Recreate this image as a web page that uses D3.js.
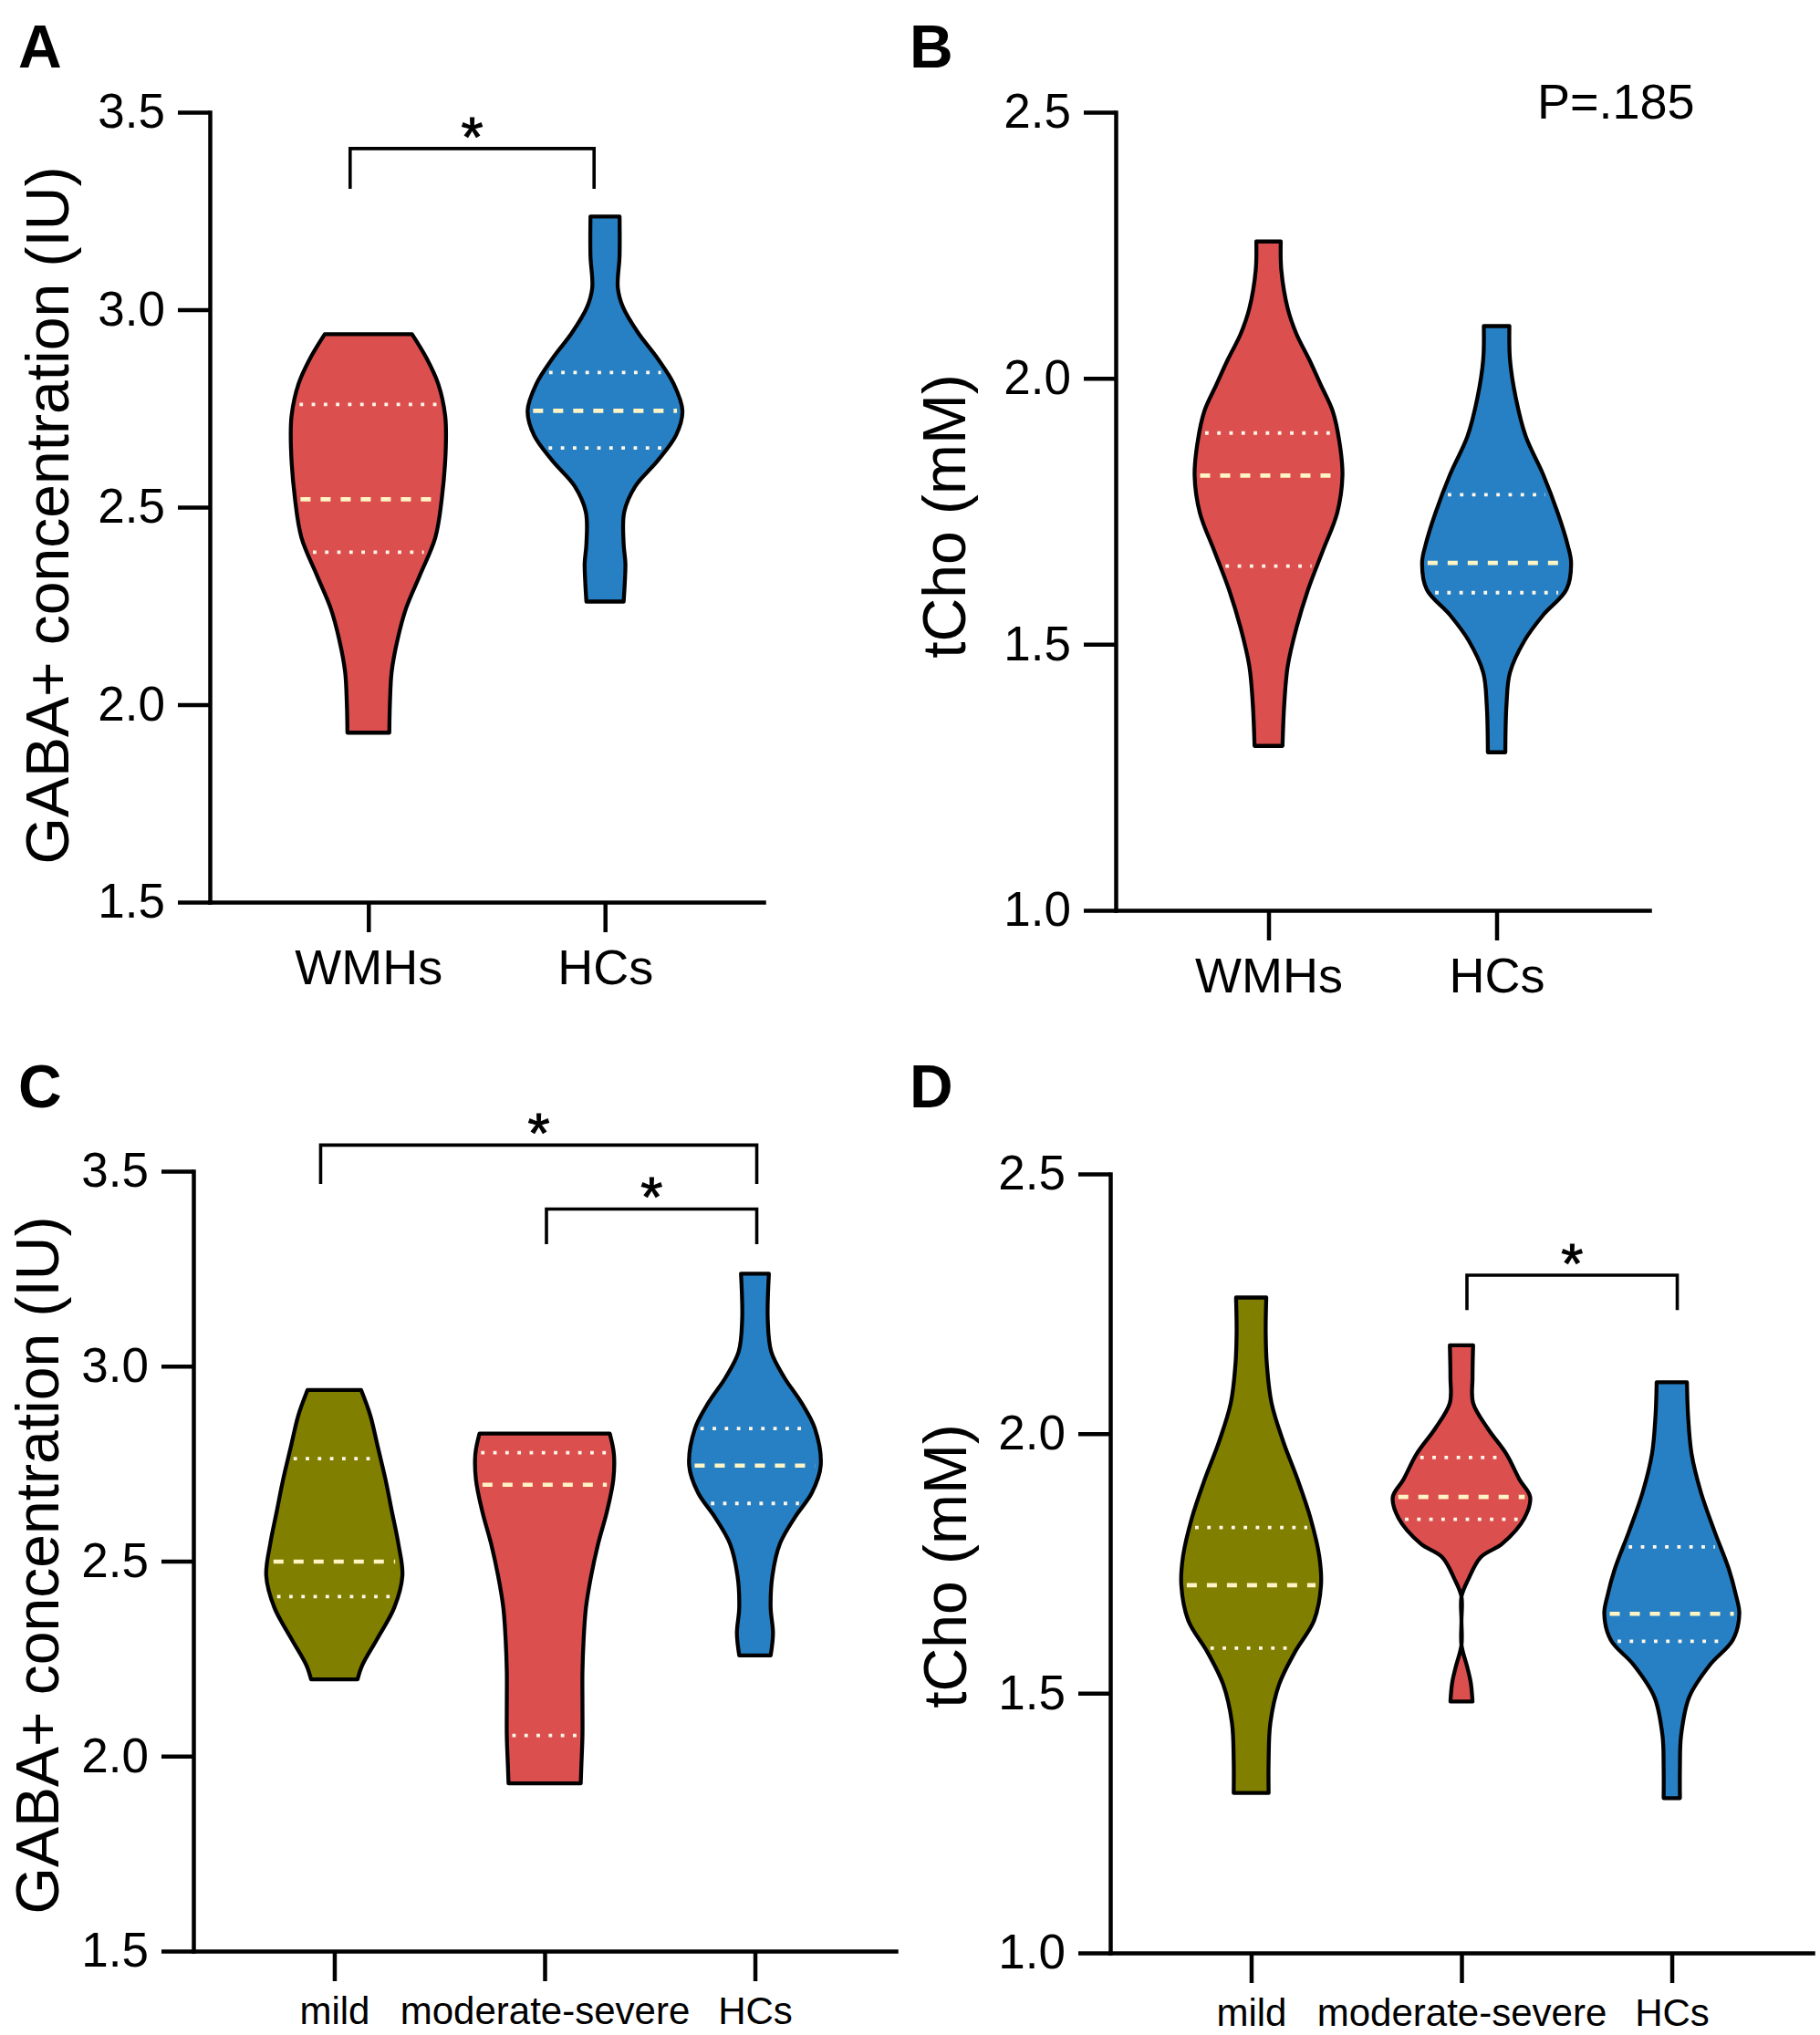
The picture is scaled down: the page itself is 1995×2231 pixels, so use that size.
<!DOCTYPE html>
<html>
<head>
<meta charset="utf-8">
<script src="https://cdn.jsdelivr.net/npm/d3@7"></script>
<style>
  html, body { margin: 0; padding: 0; background: #fff; }
  svg { display: block; font-family: "Liberation Sans", Arial, Helvetica, sans-serif; }
</style>
</head>
<body>
<svg id="chart" width="1995" height="2231"></svg>
<script>
// ---------------- DATA ----------------
const catsAB = ["WMHs", "HCs"];
const catsCD = ["mild", "moderate-severe", "HCs"];
const ticksGABA = [1.5, 2.0, 2.5, 3.0, 3.5];
const ticksCho = [1.0, 1.5, 2.0, 2.5];

// Panel A: GABA+ (violin outline: values top->bottom, relative half-width density)
const gabaWMH_v = [2.938, 2.877, 2.812, 2.731, 2.650, 2.520, 2.423, 2.326, 2.245, 2.164, 2.083, 2.002, 1.929];
const gabaWMH_w = [75, 100, 120, 132, 133, 126, 115, 88, 65, 50, 40, 37, 36];
const gabaWMH_q = [2.386, 2.520, 2.760]; // Q1, median, Q3
const gabaHC_v = [3.236, 3.136, 3.055, 3.006, 2.941, 2.877, 2.812, 2.744, 2.682, 2.617, 2.553, 2.488, 2.407, 2.358, 2.310, 2.261];
const gabaHC_w = [25, 25, 22, 31, 57, 90, 118, 133, 122, 90, 52, 33, 32, 35, 34, 32];
const gabaHC_q = [2.650, 2.744, 2.841];

// Panel B: tCho
const choWMH_v = [2.257, 2.203, 2.131, 2.083, 2.035, 1.987, 1.939, 1.879, 1.817, 1.747, 1.675, 1.603, 1.531, 1.459, 1.387, 1.309];
const choWMH_w = [21, 22, 33, 48, 70, 90, 110, 122, 127, 118, 93, 68, 48, 33, 27, 24];
const choWMH_q = [1.647, 1.817, 1.897];
const choHC_v = [2.098, 2.035, 1.963, 1.891, 1.819, 1.747, 1.687, 1.653, 1.603, 1.555, 1.507, 1.447, 1.387, 1.297];
const choHC_w = [22, 23, 33, 50, 80, 105, 122, 128, 120, 80, 48, 23, 17, 15];
const choHC_q = [1.597, 1.653, 1.781];

// Panel C: GABA+ by severity
const gabaMild_v = [2.939, 2.873, 2.791, 2.709, 2.627, 2.545, 2.463, 2.381, 2.299, 2.233, 2.197];
const gabaMild_w = [46, 62, 75, 88, 99, 110, 117, 103, 73, 48, 40];
const gabaMild_q = [2.409, 2.499, 2.763];
const gabaMod_v = [2.827, 2.775, 2.709, 2.627, 2.545, 2.463, 2.381, 2.299, 2.217, 2.135, 2.053, 1.971, 1.930];
const gabaMod_w = [112, 119, 118, 107, 92, 80, 71, 67, 65, 65, 65, 63, 62];
const gabaMod_q = [2.053, 2.696, 2.778];
const gabaHC2_v = [3.237, 3.119, 3.037, 2.972, 2.906, 2.840, 2.745, 2.676, 2.611, 2.545, 2.463, 2.381, 2.315, 2.258];
const gabaHC2_w = [24, 22, 28, 50, 80, 103, 113, 98, 68, 43, 30, 27, 31, 27];
const gabaHC2_q = [2.648, 2.745, 2.840];

// Panel D: tCho by severity
const choMild_v = [2.262, 2.195, 2.133, 2.059, 1.985, 1.911, 1.837, 1.764, 1.708, 1.640, 1.579, 1.517, 1.443, 1.370, 1.308];
const choMild_w = [26, 25, 27, 35, 55, 80, 102, 117, 120, 108, 75, 48, 33, 30, 30];
const choMild_q = [1.587, 1.708, 1.819];
const choMod_v = [2.170, 2.108, 2.059, 2.010, 1.961, 1.911, 1.878, 1.837, 1.788, 1.762, 1.720, 1.686, 1.640, 1.593, 1.550, 1.520, 1.484];
const choMod_w = [20, 19, 20, 45, 77, 100, 118, 108, 70, 33, 12, 0, 0, 0, 10, 16, 19];
const choMod_q = [1.835, 1.878, 1.954];
const choHC2_v = [2.099, 2.034, 1.961, 1.887, 1.813, 1.739, 1.690, 1.653, 1.603, 1.554, 1.493, 1.419, 1.357, 1.298];
const choHC2_w = [26, 28, 34, 50, 73, 98, 110, 116, 105, 65, 30, 16, 14, 14];
const choHC2_q = [1.600, 1.653, 1.782];

// significance brackets: [left category, right category, bar level, leg end level, label]
const sigA = [["WMHs", "HCs", 3.408, 3.306, "*"]];
const sigC = [["mild", "HCs", 3.567, 3.467, "*"], ["moderate-severe", "HCs", 3.403, 3.313, "*"]];
const sigD = [["moderate-severe", "HCs", 2.305, 2.238, "*"]];

// ---------------- STYLE ----------------
const RED = "#DC4F4F", BLUE = "#2780C4", OLIVE = "#807F00";
const FONT = '"Liberation Sans", Arial, Helvetica, sans-serif';

const panels = [
  { letter: "A", lx: 20, ly: 74, title: "GABA+ concentration (IU)", tx: 75, ty: 565,
    xl: 230, xr: 837, yb: 989, yt: 123, domain: [1.5, 3.5], ticks: ticksGABA, cats: catsAB, xFont: 54, xPad: 19,
    groups: [
      { cat: "WMHs", v: gabaWMH_v, w: gabaWMH_w, q: gabaWMH_q, color: RED },
      { cat: "HCs", v: gabaHC_v, w: gabaHC_w, q: gabaHC_q, color: BLUE } ],
    sig: sigA, sigNudge: [[-20, -12]] },
  { letter: "B", lx: 997, ly: 74, title: "tCho (mM)", tx: 1058, ty: 566,
    xl: 1223, xr: 1808, yb: 998, yt: 123, domain: [1.0, 2.5], ticks: ticksCho, cats: catsAB, xFont: 54, xPad: 19,
    groups: [
      { cat: "WMHs", v: choWMH_v, w: choWMH_w, q: choWMH_q, color: RED },
      { cat: "HCs", v: choHC_v, w: choHC_w, q: choHC_q, color: BLUE } ],
    sig: [], sigNudge: [], note: "P=.185" },
  { letter: "C", lx: 20, ly: 1214, title: "GABA+ concentration (IU)", tx: 64, ty: 1716,
    xl: 212, xr: 982, yb: 2139, yt: 1284, domain: [1.5, 3.5], ticks: ticksGABA, cats: catsCD, xFont: 42, xPad: 17,
    groups: [
      { cat: "mild", v: gabaMild_v, w: gabaMild_w, q: gabaMild_q, color: OLIVE },
      { cat: "moderate-severe", v: gabaMod_v, w: gabaMod_w, q: gabaMod_q, color: RED },
      { cat: "HCs", v: gabaHC2_v, w: gabaHC2_w, q: gabaHC2_q, color: BLUE } ],
    sig: sigC, sigNudge: [[-15, 2], [2, 2]] },
  { letter: "D", lx: 997, ly: 1214, title: "tCho (mM)", tx: 1059, ty: 1717,
    xl: 1217, xr: 1987, yb: 2141, yt: 1287, domain: [1.0, 2.5], ticks: ticksCho, cats: catsCD, xFont: 42, xPad: 17,
    groups: [
      { cat: "mild", v: choMild_v, w: choMild_w, q: choMild_q, color: OLIVE },
      { cat: "moderate-severe", v: choMod_v, w: choMod_w, q: choMod_q, color: RED },
      { cat: "HCs", v: choHC2_v, w: choHC2_w, q: choHC2_q, color: BLUE } ],
    sig: sigD, sigNudge: [[6, 6]] }
];

const widthScale = d3.scaleLinear().domain([0, 100]).range([0, 63.8]);
const svg = d3.select("#chart");

panels.forEach(p => {
  const g = svg.append("g");
  const y = d3.scaleLinear().domain(p.domain).range([p.yb, p.yt]);
  const x = d3.scalePoint().domain(p.cats).range([p.xl, p.xr]).padding(0.67);

  // violins
  p.groups.forEach(gr => {
    const cx = x(gr.cat);
    const pts = gr.v.map((v, i) => ({ v: v, w: gr.w[i] }));
    const area = d3.area()
      .curve(d3.curveCatmullRom.alpha(0.5))
      .y(d => y(d.v))
      .x0(d => cx - widthScale(d.w))
      .x1(d => cx + widthScale(d.w));
    g.append("path").datum(pts)
      .attr("d", area)
      .attr("fill", gr.color)
      .attr("stroke", "#000")
      .attr("stroke-width", 4.3)
      .attr("stroke-linejoin", "round");

    const halfAt = d3.scaleLinear().domain(gr.v).range(gr.w).clamp(true);
    gr.q.forEach((qv, i) => {
      const hw = widthScale(halfAt(qv)) - 6;
      const isMed = i === 1;
      g.append("line")
        .attr("x1", cx - hw).attr("x2", cx + hw)
        .attr("y1", y(qv)).attr("y2", y(qv))
        .attr("stroke", isMed ? "#FFF4C4" : "#FFF8E8")
        .attr("stroke-width", isMed ? 4.6 : 3.8)
        .attr("stroke-dasharray", isMed ? "11 11" : "3.8 9.5");
    });
  });

  // axes
  const yAxis = g.append("g")
    .attr("transform", `translate(${p.xl},0)`)
    .call(d3.axisLeft(y).tickValues(p.ticks).tickFormat(d3.format(".1f"))
      .tickSize(35).tickSizeOuter(0).tickPadding(14));
  yAxis.selectAll("text").attr("font-size", 53).attr("font-family", FONT).attr("fill", "#000");

  const xAxis = g.append("g")
    .attr("transform", `translate(0,${p.yb})`)
    .call(d3.axisBottom(x).tickSize(33).tickSizeOuter(0).tickPadding(p.xPad));
  xAxis.selectAll("text").attr("font-size", p.xFont).attr("font-family", FONT).attr("fill", "#000");

  [yAxis, xAxis].forEach(a => {
    a.select(".domain").attr("stroke", "#000").attr("stroke-width", 4.5).attr("stroke-linecap", "square");
    a.selectAll(".tick line").attr("stroke", "#000").attr("stroke-width", 4.5);
  });

  // significance brackets
  p.sig.forEach((s, i) => {
    const nud = p.sigNudge[i] || [0, 0];
    const xa = x(s[0]) + nud[0], xb = x(s[1]) + nud[1];
    const yl = y(s[2]), yd = y(s[3]);
    g.append("path")
      .attr("d", `M${xa},${yd}V${yl}H${xb}V${yd}`)
      .attr("fill", "none").attr("stroke", "#000").attr("stroke-width", 3.6);
    g.append("text")
      .attr("x", (xa + xb) / 2).attr("y", yl + 8)
      .attr("text-anchor", "middle")
      .attr("font-size", 62).attr("font-family", FONT)
      .attr("stroke", "#000").attr("stroke-width", 1)
      .text(s[4]);
  });

  // axis title
  g.append("text")
    .attr("transform", `translate(${p.tx},${p.ty}) rotate(-90)`)
    .attr("text-anchor", "middle")
    .attr("font-size", 66).attr("font-family", FONT)
    .text(p.title);

  // panel letter
  g.append("text")
    .attr("x", p.lx).attr("y", p.ly)
    .attr("font-size", 66).attr("font-weight", "bold").attr("font-family", FONT)
    .text(p.letter);

  if (p.note) {
    g.append("text")
      .attr("x", 1685).attr("y", 130)
      .attr("font-size", 54).attr("font-family", FONT)
      .text(p.note);
  }
});
</script>
</body>
</html>
